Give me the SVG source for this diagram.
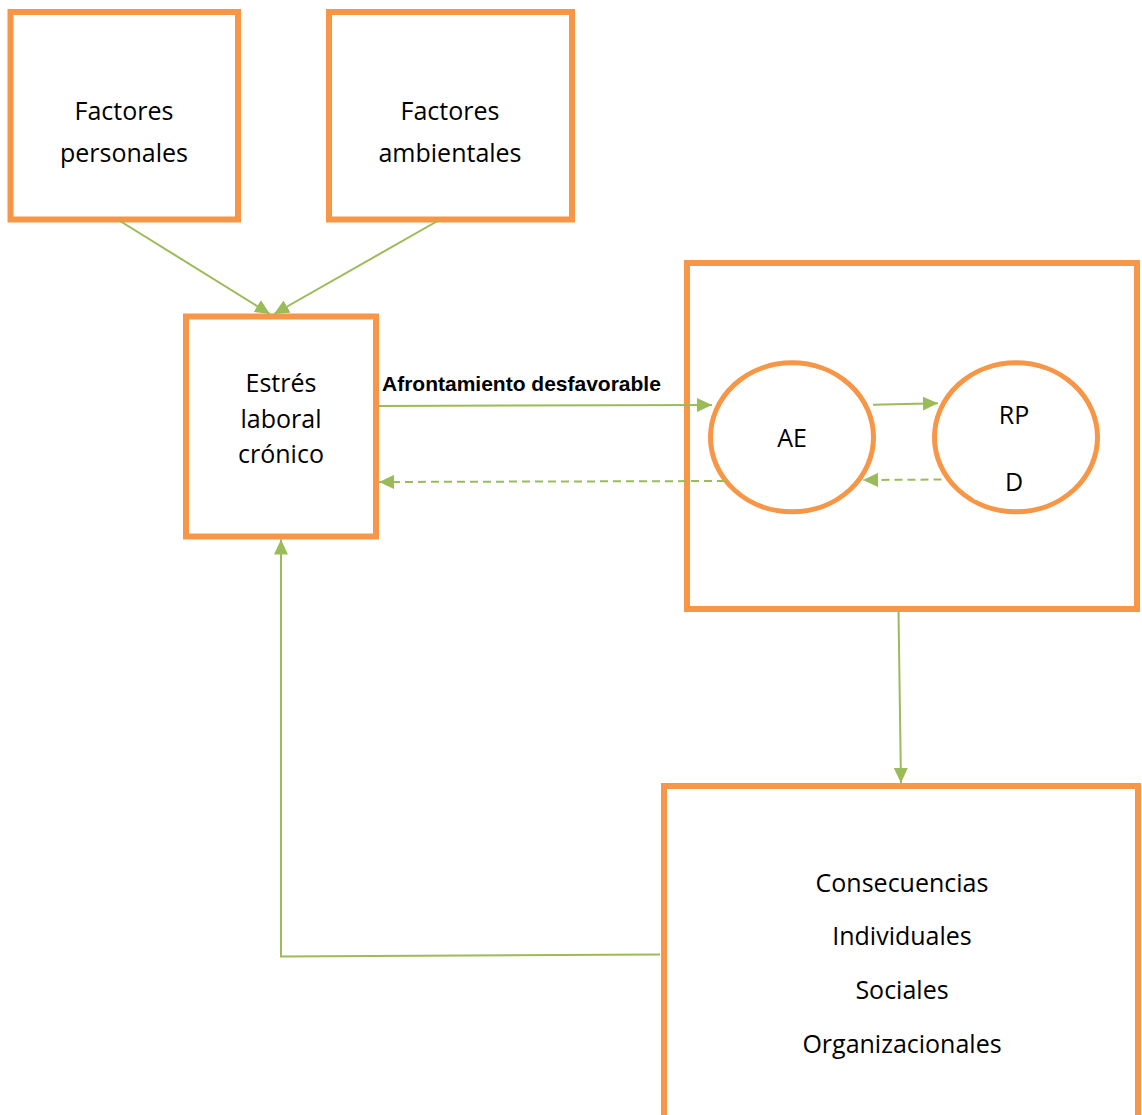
<svg xmlns="http://www.w3.org/2000/svg" width="1142" height="1115" viewBox="0 0 1142 1115">
<style>
.box{fill:#fff;stroke:#F79646;stroke-width:6}
.ell{fill:#fff;stroke:#F79646;stroke-width:5}
.t{font-family:"Open Sans","Liberation Sans",sans-serif;font-size:25px;fill:#000;text-anchor:middle}
.lbl{font-family:"Liberation Sans",Arial,sans-serif;font-size:21px;font-weight:bold;fill:#000}
.c{fill:none;stroke:#9BBB59;stroke-width:2}
.d{stroke-dasharray:8 5}
</style>
<defs>
<marker id="ah" markerUnits="userSpaceOnUse" markerWidth="16" markerHeight="14" refX="15" refY="7" orient="auto">
<path d="M0,0 L15,7 L0,14 z" fill="#9BBB59"/>
</marker>
</defs>
<rect width="1142" height="1115" fill="#fff"/>
<g id="n-personales">
<rect class="box" x="10.5" y="12" width="227.5" height="207.5"/>
<text class="t" x="124" y="120">Factores</text>
<text class="t" x="124" y="162">personales</text>
</g>
<g id="n-ambientales">
<rect class="box" x="329" y="12" width="243" height="207.5"/>
<text class="t" x="450" y="120">Factores</text>
<text class="t" x="450" y="162">ambientales</text>
</g>
<g id="n-estres">
<rect class="box" x="186" y="316.5" width="190" height="220"/>
<text class="t" x="281" y="392">Estrés</text>
<text class="t" x="281" y="428">laboral</text>
<text class="t" x="281" y="463">crónico</text>
</g>
<g id="n-proceso">
<rect class="box" x="687" y="263" width="450" height="346"/>
</g>
<g id="n-ae">
<ellipse class="ell" cx="792" cy="437.3" rx="81.5" ry="74.5"/>
<text class="t" x="792" y="446.5">AE</text>
</g>
<g id="n-rpd">
<ellipse class="ell" cx="1016" cy="437.3" rx="81.5" ry="74.5"/>
<rect x="974" y="455" width="79" height="44.5" fill="#fff"/>
<text class="t" x="1014" y="424">RP</text>
<text class="t" x="1014" y="491">D</text>
</g>
<g id="n-consecuencias">
<rect class="box" x="664" y="786" width="474" height="340"/>
<text class="t" x="902" y="892">Consecuencias</text>
<text class="t" x="902" y="945">Individuales</text>
<text class="t" x="902" y="999">Sociales</text>
<text class="t" x="902" y="1053">Organizacionales</text>
</g>
<g id="connectors">
<line class="c" x1="120" y1="221" x2="270" y2="314" marker-end="url(#ah)"/>
<line class="c" x1="437.5" y1="221" x2="274" y2="314" marker-end="url(#ah)"/>
<line class="c" x1="379" y1="406" x2="712" y2="405" marker-end="url(#ah)"/>
<text class="lbl" x="382" y="391">Afrontamiento desfavorable</text>
<line class="c" x1="873" y1="404.7" x2="938" y2="403.3" marker-end="url(#ah)"/>
<line class="c d" x1="941.5" y1="479.5" x2="863" y2="480" marker-end="url(#ah)"/>
<line class="c d" x1="725" y1="481" x2="379" y2="482" marker-end="url(#ah)"/>
<line class="c" x1="898.5" y1="611" x2="901" y2="783" marker-end="url(#ah)"/>
<polyline class="c" points="660,954.5 281,956.5 281,539.5" marker-end="url(#ah)"/>
</g>
</svg>
